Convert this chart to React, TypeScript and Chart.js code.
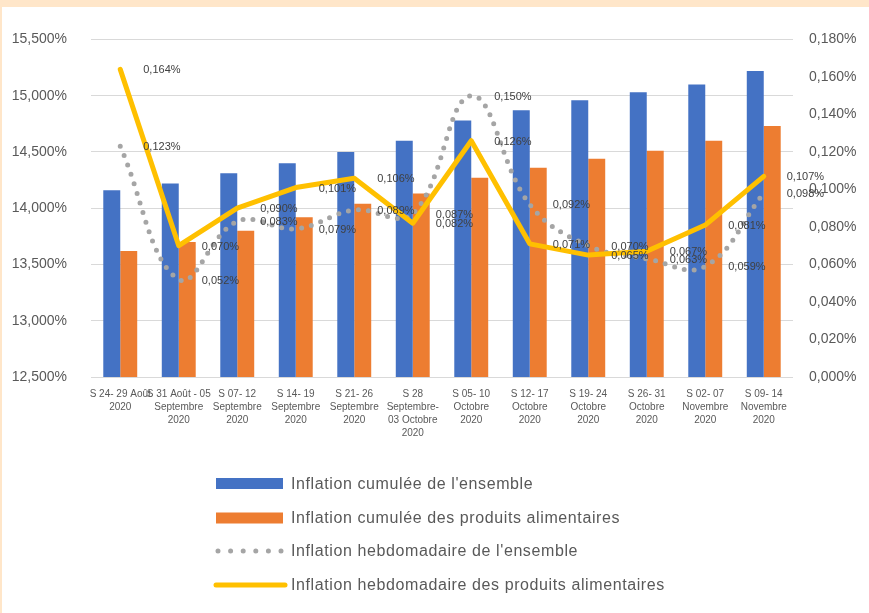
import React, { useEffect, useRef } from "react";
import { Chart, registerables } from "chart.js";

Chart.register(...registerables);

const categories: string[][] = [
  ["S 24- 29 Août", "2020"],
  ["S 31 Août - 05", "Septembre", "2020"],
  ["S 07- 12", "Septembre", "2020"],
  ["S 14- 19", "Septembre", "2020"],
  ["S 21- 26", "Septembre", "2020"],
  ["S 28", "Septembre-", "03 Octobre", "2020"],
  ["S 05- 10", "Octobre", "2020"],
  ["S 12- 17", "Octobre", "2020"],
  ["S 19- 24", "Octobre", "2020"],
  ["S 26- 31", "Octobre", "2020"],
  ["S 02- 07", "Novembre", "2020"],
  ["S 09- 14", "Novembre", "2020"],
];

const seriesNames = [
  "Inflation cumulée de l'ensemble",
  "Inflation cumulée des produits alimentaires",
  "Inflation hebdomadaire de l'ensemble",
  "Inflation hebdomadaire des produits alimentaires",
];

const cumulEnsemble = [14.16, 14.22, 14.31, 14.4, 14.5, 14.6, 14.78, 14.87, 14.96, 15.03, 15.1, 15.22];
const cumulAlim = [13.62, 13.7, 13.8, 13.92, 14.04, 14.13, 14.27, 14.36, 14.44, 14.51, 14.6, 14.73];
const hebdoEnsemble = [0.123, 0.052, 0.083, 0.079, 0.089, 0.087, 0.15, 0.092, 0.07, 0.063, 0.059, 0.098];
const hebdoAlim = [0.164, 0.07, 0.09, 0.101, 0.106, 0.082, 0.126, 0.071, 0.065, 0.067, 0.081, 0.107];

const leftMin = 12.5;
const leftMax = 15.5;
const leftStep = 0.5;
const rightMin = 0;
const rightMax = 0.18;
const rightStep = 0.02;

const BLUE = "#4472C4";
const ORANGE = "#ED7D31";
const GRAY = "#A5A5A5";
const YELLOW = "#FFC000";
const TEXT = "#595959";
const LABEL = "#404040";
const FONT = '"Liberation Sans", Arial, sans-serif';

const fmt = (v: number) => v.toFixed(3).replace(".", ",") + "%";

const dataLabelPlugin = {
  id: "pointLabels",
  afterDatasetsDraw(chart: any) {
    const ctx = chart.ctx;
    ctx.save();
    ctx.font = `11px ${FONT}`;
    ctx.fillStyle = LABEL;
    ctx.textAlign = "left";
    ctx.textBaseline = "middle";
    [2, 3].forEach((di) => {
      const meta = chart.getDatasetMeta(di);
      const ds = chart.data.datasets[di];
      meta.data.forEach((pt: any, i: number) => {
        ctx.fillText(fmt(ds.data[i] as number), pt.x + 23, pt.y + 1);
      });
    });
    ctx.restore();
  },
};

const legendPlugin = {
  id: "customLegend",
  afterDraw(chart: any) {
    const ctx = chart.ctx;
    const x0 = 214;
    const x1 = 281;
    const rows = [476.5, 511, 544, 578];
    ctx.save();
    ctx.fillStyle = BLUE;
    ctx.fillRect(x0, rows[0] - 5.5, x1 - x0, 11);
    ctx.fillStyle = ORANGE;
    ctx.fillRect(x0, rows[1] - 5.5, x1 - x0, 11);
    ctx.strokeStyle = GRAY;
    ctx.lineWidth = 5;
    ctx.lineCap = "round";
    ctx.setLineDash([0, 12.6]);
    ctx.beginPath();
    ctx.moveTo(x0 + 2, rows[2]);
    ctx.lineTo(x1, rows[2]);
    ctx.stroke();
    ctx.setLineDash([]);
    ctx.strokeStyle = YELLOW;
    ctx.lineWidth = 5;
    ctx.beginPath();
    ctx.moveTo(x0, rows[3]);
    ctx.lineTo(x1 + 2, rows[3]);
    ctx.stroke();
    ctx.fillStyle = TEXT;
    ctx.font = `16px ${FONT}`;
    (ctx as any).letterSpacing = "0.6px";
    ctx.textAlign = "left";
    ctx.textBaseline = "middle";
    seriesNames.forEach((name, i) => {
      ctx.fillText(name, 289, rows[i] + 1);
    });
    ctx.restore();
  },
};

export default function App() {
  const canvasRef = useRef<HTMLCanvasElement | null>(null);

  useEffect(() => {
    if (!canvasRef.current) return;
    const chart = new Chart(canvasRef.current, {
      type: "bar",
      data: {
        labels: categories as any,
        datasets: [
          {
            type: "bar",
            label: seriesNames[0],
            data: cumulEnsemble,
            backgroundColor: BLUE,
            yAxisID: "y",
            categoryPercentage: 0.58,
            barPercentage: 1,
            order: 2,
          },
          {
            type: "bar",
            label: seriesNames[1],
            data: cumulAlim,
            backgroundColor: ORANGE,
            yAxisID: "y",
            categoryPercentage: 0.58,
            barPercentage: 1,
            order: 3,
          },
          {
            type: "line",
            label: seriesNames[2],
            data: hebdoEnsemble,
            borderColor: GRAY,
            borderWidth: 5,
            borderDash: [0, 10],
            borderCapStyle: "round",
            tension: 0.4,
            pointRadius: 0,
            yAxisID: "y1",
            order: 1,
          } as any,
          {
            type: "line",
            label: seriesNames[3],
            data: hebdoAlim,
            borderColor: YELLOW,
            borderWidth: 5,
            borderJoinStyle: "round",
            borderCapStyle: "round",
            tension: 0,
            pointRadius: 0,
            yAxisID: "y1",
            order: 0,
          } as any,
        ],
      },
      options: {
        responsive: false,
        animation: false,
        layout: { padding: { top: 29, left: 0, right: 0, bottom: 0 } },
        plugins: {
          legend: { display: false },
          tooltip: { enabled: false },
        },
        scales: {
          x: {
            grid: { display: false },
            border: { display: false },
            ticks: {
              color: TEXT,
              font: { family: FONT, size: 10, lineHeight: 1.3 },
              maxRotation: 0,
              minRotation: 0,
              autoSkip: false,
              padding: 3,
            },
            afterFit: (s: any) => {
              s.height = 236;
            },
          },
          y: {
            position: "left",
            min: leftMin,
            max: leftMax,
            grid: { color: "#D9D9D9", lineWidth: 1, drawTicks: false },
            border: { display: false },
            ticks: {
              stepSize: leftStep,
              color: TEXT,
              font: { family: FONT, size: 14 },
              padding: 24,
              callback: (v: any) => fmt(Number(v)),
            },
            afterFit: (s: any) => {
              s.width = 89;
            },
          },
          y1: {
            position: "right",
            min: rightMin,
            max: rightMax,
            grid: { display: false, drawTicks: false },
            border: { display: false },
            ticks: {
              stepSize: rightStep,
              color: TEXT,
              font: { family: FONT, size: 14 },
              padding: 16,
              callback: (v: any) => fmt(Number(v)),
            },
            afterFit: (s: any) => {
              s.width = 76;
            },
          },
        },
      },
      plugins: [dataLabelPlugin, legendPlugin],
    });
    return () => chart.destroy();
  }, []);

  return (
    <div
      style={{
        position: "absolute",
        left: 0,
        top: 0,
        width: 869,
        height: 613,
        background: "#FFE6C9",
        overflow: "hidden",
      }}
    >
      <div
        style={{
          position: "absolute",
          left: 2,
          top: 7,
          width: 867,
          height: 606,
          background: "#FFFFFF",
        }}
      >
        <canvas
          ref={canvasRef}
          width={867}
          height={606}
          style={{ display: "block", width: 867, height: 606 }}
        />
      </div>
    </div>
  );
}
